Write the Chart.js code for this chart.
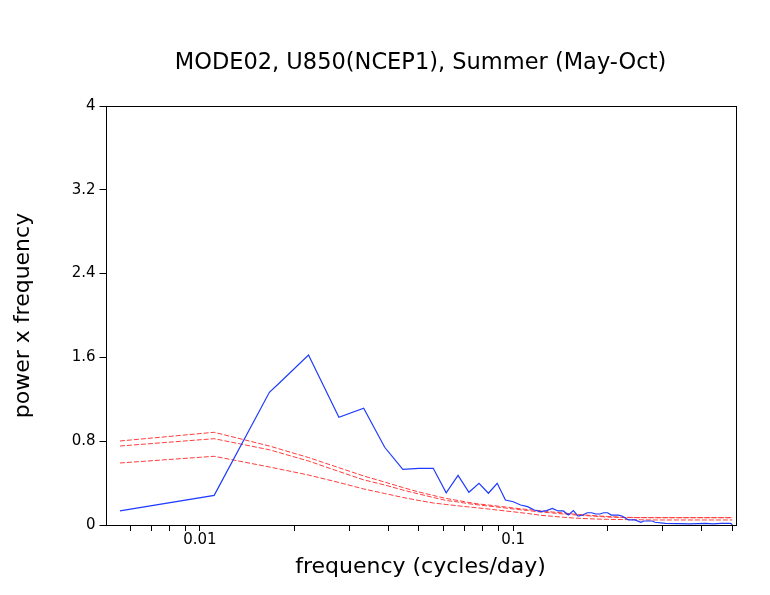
<!DOCTYPE html>
<html>
<head>
<meta charset="utf-8">
<script src="https://cdn.jsdelivr.net/npm/chart.js@4/dist/chart.umd.min.js"></script>
<style>
  html, body { margin: 0; padding: 0; background: #fff; }
  #wrap { width: 770px; height: 595px; }
</style>
</head>
<body>
<div id="wrap"><canvas id="spectrumChart"></canvas></div>
<script>
// 관측 스펙트럼 (frequency in cycles/day, power x frequency)
const blueFreq = [
  0.00556, 0.01111, 0.01667, 0.0179, 0.02222, 0.02778, 0.03333, 0.03889, 0.04444, 0.05,
  0.05556, 0.06111, 0.06667, 0.07222, 0.07778, 0.08333, 0.08889, 0.09444, 0.1, 0.10556,
  0.11111, 0.11667, 0.12222, 0.12778, 0.13333, 0.13889, 0.14444, 0.15, 0.15556, 0.16111,
  0.16667, 0.17222, 0.17778, 0.18333, 0.18889, 0.19444, 0.2, 0.20556, 0.21111, 0.21667,
  0.22222, 0.22778, 0.23333, 0.24444, 0.25556, 0.26111, 0.27778, 0.28333, 0.30556, 0.36667,
  0.41111, 0.43333, 0.46111, 0.49444, 0.5
];
const blueValues = [
  0.134, 0.283, 1.267, 1.353, 1.623, 1.028, 1.114, 0.742, 0.532, 0.541,
  0.541, 0.308, 0.474, 0.312, 0.398, 0.303, 0.398, 0.239, 0.222, 0.191,
  0.175, 0.143, 0.127, 0.137, 0.159, 0.134, 0.134, 0.095, 0.137, 0.085,
  0.095, 0.117, 0.117, 0.105, 0.105, 0.117, 0.117, 0.095, 0.095, 0.095,
  0.086, 0.067, 0.048, 0.048, 0.026, 0.038, 0.038, 0.026, 0.016, 0.010,
  0.016, 0.010, 0.016, 0.016, 0.0
];

// 적색잡음 기준 스펙트럼 (세 개의 곡선)
const redFreq = [
  0.00556, 0.01111, 0.01667, 0.02222, 0.02778, 0.03333, 0.03889, 0.04444, 0.05, 0.05556,
  0.06111, 0.06667, 0.07222, 0.07778, 0.08333, 0.08889, 0.09444, 0.1, 0.11111, 0.12222,
  0.13333, 0.14444, 0.15556, 0.16667, 0.18333, 0.2, 0.22222, 0.25, 0.27778, 0.33333,
  0.38889, 0.44444, 0.5
];
const redUpper = [
  0.802, 0.885, 0.754, 0.644, 0.547, 0.468, 0.41, 0.358, 0.315, 0.282,
  0.253, 0.234, 0.215, 0.2, 0.191, 0.181, 0.172, 0.162, 0.148, 0.137,
  0.124, 0.115, 0.105, 0.097, 0.088, 0.081, 0.074, 0.071, 0.07, 0.07,
  0.07, 0.07, 0.07
];
const redMiddle = [
  0.754, 0.824, 0.718, 0.611, 0.511, 0.431, 0.382, 0.334, 0.296, 0.263,
  0.234, 0.22, 0.203, 0.191, 0.181, 0.172, 0.162, 0.153, 0.138, 0.124,
  0.115, 0.105, 0.097, 0.091, 0.083, 0.076, 0.072, 0.07, 0.07, 0.07,
  0.07, 0.07, 0.07
];
const redLower = [
  0.592, 0.656, 0.554, 0.477, 0.406, 0.344, 0.301, 0.263, 0.234, 0.21,
  0.196, 0.183, 0.172, 0.162, 0.153, 0.143, 0.134, 0.126, 0.11, 0.093,
  0.083, 0.074, 0.067, 0.062, 0.057, 0.054, 0.052, 0.05, 0.048, 0.048,
  0.048, 0.048, 0.048
];

// 축 눈금
const xTicks = [
  0.006, 0.007, 0.008, 0.009, 0.01, 0.02, 0.03, 0.04, 0.05, 0.06, 0.07, 0.08, 0.09,
  0.1, 0.2, 0.3, 0.4, 0.5
];
const xLabels = [0.01, 0.1];
const yTicks = [0, 0.8, 1.6, 2.4, 3.2, 4];

const FONT = "'DejaVu Sans', sans-serif";

function toPoints(xs, ys) {
  return xs.map((x, i) => ({ x: x, y: ys[i] }));
}

// 그래프 테두리 상자
const frameBox = {
  id: "frameBox",
  afterDatasetsDraw(chart) {
    const { ctx, chartArea: a } = chart;
    ctx.save();
    ctx.strokeStyle = "#000";
    ctx.lineWidth = 1;
    ctx.strokeRect(
      Math.round(a.left) + 0.5,
      Math.round(a.top) + 0.5,
      Math.round(a.right - a.left),
      Math.round(a.bottom - a.top)
    );
    ctx.restore();
  },
};

function redDataset(values) {
  return {
    data: toPoints(redFreq, values),
    borderColor: "#ff3c3c",
    borderWidth: 1,
    borderDash: [5, 2],
    pointRadius: 0,
    tension: 0,
    fill: false,
  };
}

const ctx = document.getElementById("spectrumChart").getContext("2d");
new Chart(ctx, {
  type: "line",
  data: {
    datasets: [
      {
        data: toPoints(blueFreq, blueValues),
        borderColor: "#1e3cff",
        borderWidth: 1.2,
        pointRadius: 0,
        tension: 0,
        fill: false,
      },
      redDataset(redUpper),
      redDataset(redMiddle),
      redDataset(redLower),
    ],
  },
  options: {
    responsive: true,
    maintainAspectRatio: false,
    animation: false,
    layout: { padding: { top: 0, right: 34.5, bottom: 0, left: 0 } },
    plugins: {
      legend: { display: false },
      tooltip: { enabled: false },
      title: {
        display: true,
        fullSize: false,
        text: "MODE02, U850(NCEP1), Summer (May-Oct)",
        color: "#000",
        font: { family: FONT, size: 22.5, weight: "normal" },
        padding: { top: 50, bottom: 29 },
      },
    },
    scales: {
      x: {
        type: "logarithmic",
        min: 0.005,
        max: 0.512,
        afterBuildTicks: (s) => {
          s.ticks = xTicks.map((v) => ({ value: v }));
        },
        afterFit: (s) => {
          s.height = 70;
        },
        ticks: {
          autoSkip: false,
          maxRotation: 0,
          padding: 0,
          color: "#000",
          font: { family: FONT, size: 15 },
          callback: (v) => (xLabels.includes(v) ? String(v) : ""),
        },
        grid: { drawOnChartArea: false, tickLength: 6, color: "#000" },
        border: { display: false },
        title: {
          display: true,
          text: "frequency (cycles/day)",
          color: "#000",
          font: { family: FONT, size: 22 },
          padding: { top: 0, bottom: 15 },
        },
      },
      y: {
        min: 0,
        max: 4,
        afterBuildTicks: (s) => {
          s.ticks = yTicks.map((v) => ({ value: v }));
        },
        afterFit: (s) => {
          s.width = 105.5;
        },
        ticks: {
          padding: 4,
          color: "#000",
          font: { family: FONT, size: 15 },
          callback: (v) => String(v),
        },
        grid: { drawOnChartArea: false, tickLength: 6, color: "#000" },
        border: { display: false },
        title: {
          display: true,
          text: "power x frequency",
          color: "#000",
          font: { family: FONT, size: 22 },
          padding: { top: 10, bottom: 0 },
        },
      },
    },
  },
  plugins: [frameBox],
});
</script>
</body>
</html>
